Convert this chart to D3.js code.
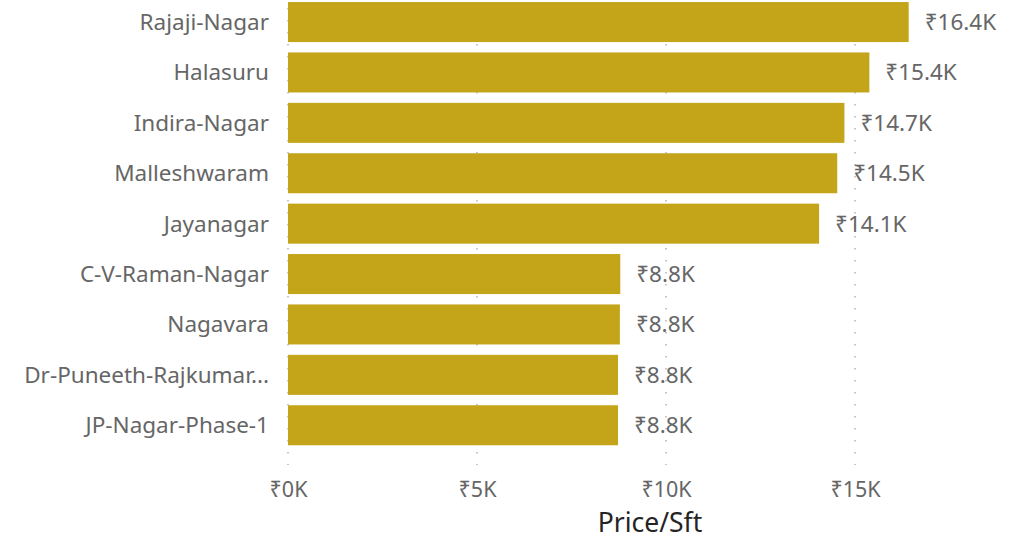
<!DOCTYPE html>
<html><head><meta charset="utf-8">
<script src="https://cdn.jsdelivr.net/npm/d3@7"></script>
<style>
html,body{margin:0;padding:0;background:#fff;}
text{font-family:"Segoe UI","Noto Sans",sans-serif;}
</style></head>
<body><svg id="c" width="1027" height="540"></svg>
<script>
const categories = ["Rajaji-Nagar","Halasuru","Indira-Nagar","Malleshwaram","Jayanagar","C-V-Raman-Nagar","Nagavara","Dr-Puneeth-Rajkumar...","JP-Nagar-Phase-1"];
const values = [16420, 15380, 14720, 14530, 14050, 8790, 8780, 8730, 8730];
const valueLabels = ["₹16.4K","₹15.4K","₹14.7K","₹14.5K","₹14.1K","₹8.8K","₹8.8K","₹8.8K","₹8.8K"];
const tickValues = [0, 5000, 10000, 15000];
const tickLabels = ["₹0K","₹5K","₹10K","₹15K"];
const axisTitle = "Price/Sft";

const svg = d3.select("#c");
const x = d3.scaleLinear().domain([0, 15000]).range([288, 855]);
const y = d3.scaleBand().domain(categories).range([-3, 450.3]).paddingInner(0.206).paddingOuter(0.1);

// gridlines
svg.append("g").selectAll("line").data(tickValues).join("line")
  .attr("x1", d => x(d)).attr("x2", d => x(d))
  .attr("y1", 8).attr("y2", 465)
  .attr("stroke", "#b4b4b4").attr("stroke-width", 1.5)
  .attr("stroke-dasharray", "1.5,10.5");

// bars
svg.append("g").selectAll("rect").data(categories).join("rect")
  .attr("x", x(0)).attr("y", d => y(d))
  .attr("width", (d, i) => x(values[i]) - x(0))
  .attr("height", y.bandwidth())
  .attr("fill", "#C4A519");

// category labels
svg.append("g").selectAll("text").data(categories).join("text")
  .attr("x", 269).attr("y", d => y(d) + y.bandwidth() / 2)
  .attr("dy", "0.35em").attr("text-anchor", "end")
  .attr("font-size", 22.5).attr("fill", "#666666")
  .text(d => d);

// value labels
svg.append("g").selectAll("text").data(categories).join("text")
  .attr("x", (d, i) => x(values[i]) + 16).attr("y", d => y(d) + y.bandwidth() / 2)
  .attr("dy", "0.35em")
  .attr("font-size", 22.5).attr("fill", "#666666")
  .text((d, i) => valueLabels[i]);

// x axis
const ax = d3.axisBottom(x).tickValues(tickValues).tickFormat((d, i) => tickLabels[i]).tickSize(0).tickPadding(0);
const g = svg.append("g").attr("transform", "translate(0,489)").call(ax);
g.select(".domain").remove();
g.selectAll("text").attr("font-size", 21.5).attr("fill", "#666666")
  .attr("font-family", "'Segoe UI','Noto Sans',sans-serif").attr("dy", "0.35em").attr("y", 0);

svg.append("text").attr("x", 650).attr("y", 523).attr("dy", "0.35em")
  .attr("text-anchor", "middle").attr("font-size", 26.5).attr("fill", "#252423")
  .text(axisTitle);
</script></body></html>
